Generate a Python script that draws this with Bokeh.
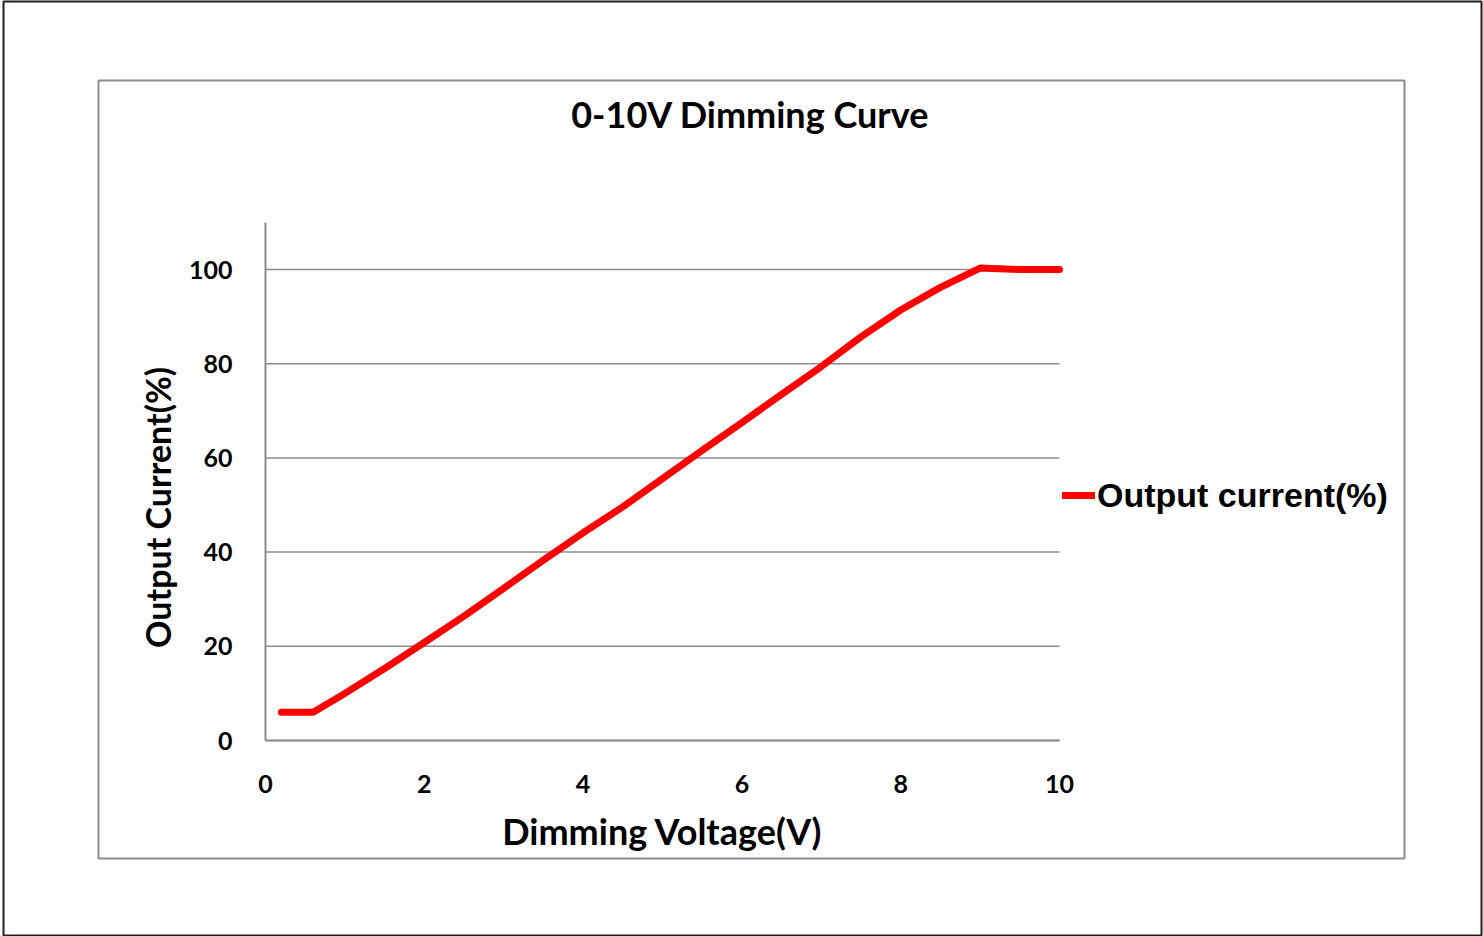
import math
from bokeh.plotting import figure
from bokeh.models import Range1d, FixedTicker, Label, Legend, BoxAnnotation
from bokeh.embed import file_html
from bokeh.resources import INLINE

# ---- data ----
voltage = [0.2, 0.6, 1.0, 1.5, 2.0, 2.5, 3.0, 3.5, 4.0, 4.5, 5.0, 5.5, 6.0, 6.5, 7.0, 7.5, 8.0, 8.5, 9.0, 9.5, 10.0]
current = [6, 6, 10, 15.3, 20.8, 26.4, 32.3, 38.3, 44.1, 49.6, 55.6, 61.6, 67.5, 73.5, 79.4, 85.7, 91.4, 96.2, 100.3, 100, 100]
x_ticks = [0, 2, 4, 6, 8, 10]
y_ticks = [0, 20, 40, 60, 80, 100]
y_axis_max = 110
title_text = "0-10V Dimming Curve"
x_title = "Dimming Voltage(V)"
y_title = "Output Current(%)"
series_name = "Output current(%)"

CAL = "Lato"
GRAY = "#8c8c8c"

# frame covers the whole picture; its outline is the outer page border
p = figure(width=1483, height=936, output_backend="svg", toolbar_location=None,
           x_range=Range1d(-3.2997, 15.3149), y_range=Range1d(-41.40, 156.90),
           min_border_left=3, min_border_right=2, min_border_top=1, min_border_bottom=1)
p.title.text = ""
p.background_fill_color = "white"
p.border_fill_color = "white"
p.outline_line_color = "#231f20"
p.outline_line_width = 2
p.xgrid.visible = False
p.ygrid.visible = False

# inner chart-area box
p.add_layout(BoxAnnotation(left=-2.1033, right=14.345, top=140.13, bottom=-25.05,
                           fill_alpha=0, line_color=GRAY, line_alpha=1.0, line_width=2))

# gridlines across the data area
p.segment(x0=[x_ticks[0]] * len(y_ticks), x1=[x_ticks[-1]] * len(y_ticks),
          y0=y_ticks, y1=y_ticks, line_color=GRAY, line_width=1.5)

# axes
xa = p.xaxis[0]
xa.fixed_location = 0
xa.bounds = (x_ticks[0], x_ticks[-1])
xa.ticker = FixedTicker(ticks=x_ticks)
xa.axis_line_color = GRAY
xa.axis_line_width = 2
xa.major_tick_line_color = None
xa.minor_tick_line_color = None
xa.major_tick_out = 0
xa.major_tick_in = 0
xa.major_label_standoff = 34
xa.major_label_text_font = CAL
xa.major_label_text_font_style = "bold"
xa.major_label_text_font_size = "25px"
xa.major_label_text_color = "black"
xa.axis_label = x_title
xa.axis_label_text_font = CAL
xa.axis_label_text_font_style = "bold"
xa.axis_label_text_font_size = "36px"
xa.axis_label_text_color = "black"
xa.axis_label_standoff = 13

ya = p.yaxis[0]
ya.fixed_location = 0
ya.bounds = (0, y_axis_max)
ya.ticker = FixedTicker(ticks=y_ticks)
ya.axis_line_color = GRAY
ya.axis_line_width = 2
ya.major_tick_line_color = None
ya.minor_tick_line_color = None
ya.major_tick_out = 0
ya.major_tick_in = 0
ya.major_label_standoff = 33
ya.major_label_text_font = CAL
ya.major_label_text_font_style = "bold"
ya.major_label_text_font_size = "25px"
ya.major_label_text_color = "black"

# series
r = p.line(voltage, current, line_color="#ff0000", line_width=7, line_cap="round", line_join="round")

legend = Legend(items=[(series_name, [r])], location=(1059, 419))
legend.padding = 0
legend.margin = 0
legend.spacing = 0
legend.label_standoff = 2
legend.glyph_width = 33
legend.glyph_height = 42
legend.label_height = 42
legend.border_line_color = None
legend.background_fill_alpha = 0
legend.label_text_font = "Liberation Sans"
legend.label_text_font_style = "bold"
legend.label_text_font_size = "34px"
legend.label_text_color = "black"
p.add_layout(legend, "center")

# title & y title
p.add_layout(Label(x=6.108, y=133.0, text=title_text, text_align="center", text_baseline="middle",
                   text_font=CAL, text_font_style="bold", text_font_size="36px", text_color="black"))
p.add_layout(Label(x=-1.36, y=49.5, text=y_title, angle=math.pi / 2, text_align="center",
                   text_baseline="middle", text_font=CAL, text_font_style="bold",
                   text_font_size="34px", text_color="black"))

open("out.html", "w").write(file_html(p, INLINE))
